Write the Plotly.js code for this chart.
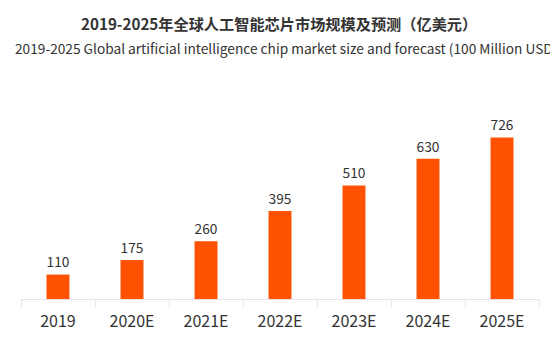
<!DOCTYPE html>
<html>
<head>
<meta charset="utf-8">
<script src="https://cdn.plot.ly/plotly-3.0.1.min.js"></script>
<style>html,body{margin:0;padding:0;background:#fff;}#chart{width:550px;height:343px;}</style>
</head>
<body>
<div id="chart"></div>
<script>
const categories = ["2019", "2020E", "2021E", "2022E", "2023E", "2024E", "2025E"];
const values = [110, 175, 260, 395, 510, 630, 726];
const titleCn = "2019-2025年全球人工智能芯片市场规模及预测（亿美元）";
const titleEn = "2019-2025 Global artificial intelligence chip market size and forecast (100 Million USD)";

const FONT = '"Noto Sans CJK SC", "Noto Sans", sans-serif';

const trace = {
  type: 'bar',
  x: categories,
  y: values,
  text: values.map(String),
  textposition: 'outside',
  cliponaxis: false,
  textfont: {family: FONT, size: 16, color: '#333333'},
  marker: {color: '#ff5200'},
  hoverinfo: 'none'
};

const layout = {
  width: 550,
  height: 343,
  margin: {l: 21, r: 11, t: 121, b: 44},
  paper_bgcolor: '#ffffff',
  plot_bgcolor: '#ffffff',
  bargap: 0.69,
  showlegend: false,
  font: {family: FONT, color: '#333333'},
  xaxis: {
    type: 'category',
    showline: true,
    linecolor: '#e3e3e3',
    linewidth: 1,
    ticks: 'outside',
    tickson: 'boundaries',
    ticklen: 8,
    tickcolor: '#e8e8e8',
    ticklabelstandoff: 8,
    tickfont: {family: FONT, size: 16, color: '#333333'},
    showgrid: false,
    zeroline: false,
    fixedrange: true
  },
  yaxis: {
    range: [0, 800],
    visible: false,
    showgrid: false,
    zeroline: false,
    fixedrange: true
  },
  annotations: [
    {
      text: '<b>' + titleCn + '</b>',
      xref: 'paper', yref: 'paper',
      x: 0.499, y: 1.5506,
      xanchor: 'center', yanchor: 'middle',
      showarrow: false,
      font: {family: FONT, size: 15.2, color: '#333333'}
    },
    {
      text: titleEn,
      xref: 'paper', yref: 'paper',
      x: -0.0154, y: 1.410,
      xanchor: 'left', yanchor: 'middle',
      showarrow: false,
      font: {family: FONT, size: 13.7, color: '#333333'}
    }
  ]
};

Plotly.newPlot('chart', [trace], layout, {displayModeBar: false, staticPlot: true});
</script>
</body>
</html>
